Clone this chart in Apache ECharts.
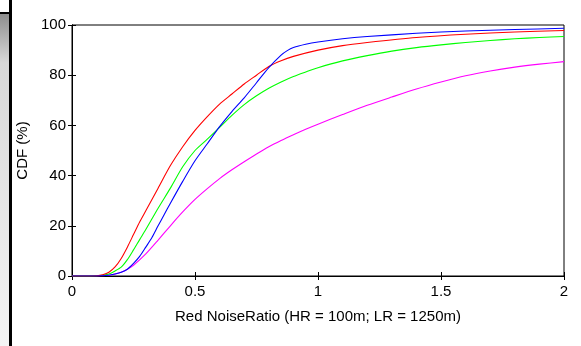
<!DOCTYPE html>
<html>
<head>
<meta charset="utf-8">
<script src="https://cdn.jsdelivr.net/npm/echarts@6/dist/echarts.min.js"></script>
<style>html,body{margin:0;padding:0;background:#fff;}#c{width:581px;height:346px;}</style>
</head>
<body>
<div id="c"></div>
<script>
const xTicks = [0, 0.5, 1, 1.5, 2];
const yTicks = [0, 20, 40, 60, 80, 100];
const xName = 'Red NoiseRatio (HR = 100m; LR = 1250m)';
const yName = 'CDF (%)';

const redX = [0,0.05,0.1,0.125,0.15,0.175,0.2,0.225,0.25,0.275,0.3,0.35,0.4,0.45,0.5,0.55,0.6,0.65,0.7,0.75,0.8,0.85,0.9,1.0,1.1,1.2,1.4,1.6,1.8,2.0];
const redY = [0,0,0.1,0.5,1.5,3.6,7,11.5,16.5,21.5,26,35,44,51.5,58,63.5,68.5,72.5,76.5,80,83.5,85.8,87.5,90,91.8,93,95,96.3,97.2,97.8];

const greenX = [0,0.05,0.1,0.125,0.15,0.175,0.2,0.225,0.25,0.275,0.3,0.35,0.4,0.45,0.5,0.55,0.6,0.65,0.7,0.75,0.8,0.85,0.9,0.95,1.0,1.1,1.2,1.3,1.4,1.5,1.6,1.7,1.8,1.9,2.0];
const greenY = [0,0,0.1,0.3,0.8,2,3.5,6.5,10.4,14.5,18.5,27,35,43.5,50,54.5,59.2,64,68.3,71.8,74.8,77.3,79.5,81.3,83,85.7,87.8,89.6,91,92.1,93,93.8,94.5,95,95.4];

const blueX = [0,0.05,0.1,0.15,0.175,0.2,0.225,0.25,0.275,0.3,0.325,0.35,0.375,0.4,0.45,0.5,0.55,0.6,0.65,0.7,0.75,0.8,0.85,0.875,0.9,0.95,1.0,1.1,1.2,1.4,1.6,1.8,2.0];
const blueY = [0,0,0,0.3,0.8,1.5,2.7,5,7.8,11.5,15.3,20,24.5,29,37.7,45.9,52.7,59.5,65.5,71,77,83,88,89.8,91,92.3,93.2,94.5,95.4,96.7,97.6,98.2,98.7];

const magentaX = [0,0.05,0.1,0.15,0.175,0.2,0.225,0.25,0.3,0.35,0.4,0.45,0.5,0.55,0.6,0.65,0.7,0.75,0.8,0.85,0.9,0.95,1.0,1.1,1.2,1.3,1.4,1.5,1.6,1.7,1.8,1.9,2.0];
const magentaY = [0,0,0,0.3,0.8,1.5,2.7,4.3,8.8,14.3,20,25.5,30.5,34.8,38.8,42.3,45.5,48.6,51.5,54,56.3,58.5,60.5,64.3,68,71.3,74.5,77.3,79.8,81.7,83.2,84.4,85.4];

function pairs(xs, ys){ return xs.map((x,i)=>[x, ys[i]]); }

const font = 'Liberation Sans, Arial, sans-serif';
const chart = echarts.init(document.getElementById('c'));
function line(name, xs, ys, color){
  return {name, type:'line', data:pairs(xs,ys), showSymbol:false, smooth:0.25,
    lineStyle:{color, width:1.1}, itemStyle:{color}, animation:false, z:3};
}
chart.setOption({
  animation:false,
  backgroundColor:'#fff',
  grid:{left:72, right:17, top:25, bottom:70, show:true, borderColor:'#000', borderWidth:1},
  xAxis:[{
    type:'value', min:0, max:2, interval:0.5, position:'bottom',
    name:xName, nameLocation:'middle', nameGap:33,
    nameTextStyle:{color:'#000', fontFamily:font, fontSize:15},
    axisLine:{show:true, lineStyle:{color:'#000', width:1}},
    axisTick:{show:true, inside:true, length:4, lineStyle:{color:'#000'}},
    axisLabel:{color:'#000', fontFamily:font, fontSize:15, margin:8, formatter:v=>String(v), customValues:xTicks},
    splitLine:{show:false}
  },{
    type:'value', min:0, max:2, interval:0.5, position:'top',
    axisLine:{show:true, lineStyle:{color:'#000', width:1}},
    axisTick:{show:true, inside:true, length:4, lineStyle:{color:'#000'}},
    axisLabel:{show:false}, splitLine:{show:false}
  }],
  yAxis:[{
    type:'value', min:0, max:100, interval:20, position:'left',
    name:yName, nameLocation:'middle', nameGap:42, nameRotate:90,
    nameTextStyle:{color:'#000', fontFamily:font, fontSize:15},
    axisLine:{show:true, lineStyle:{color:'#000', width:1}},
    axisTick:{show:true, inside:true, length:4, lineStyle:{color:'#000'}},
    axisLabel:{color:'#000', fontFamily:font, fontSize:15, margin:6, customValues:yTicks},
    splitLine:{show:false}
  },{
    type:'value', min:0, max:100, interval:20, position:'right',
    axisLine:{show:true, lineStyle:{color:'#000', width:1}},
    axisTick:{show:true, inside:true, length:4, lineStyle:{color:'#000'}},
    axisLabel:{show:false}, splitLine:{show:false}
  }],
  graphic:[
    {type:'rect', left:0, top:13, shape:{width:9, height:333},
      style:{fill:new echarts.graphic.LinearGradient(0,0,0,1,[{offset:0,color:'#8c8c8c'},{offset:0.15,color:'#d8d8d8'},{offset:1,color:'#f4f4f4'}])}},
    {type:'rect', left:0, top:12, shape:{width:10, height:2}, style:{fill:'#000'}},
    {type:'rect', left:9, top:0, shape:{width:3, height:346}, style:{fill:'#000'}}
  ],
  series:[
    line('magenta', magentaX, magentaY, '#ff00ff'),
    line('green', greenX, greenY, '#00ff00'),
    line('red', redX, redY, '#ff0000'),
    line('blue', blueX, blueY, '#0000ff')
  ]
});
</script>
</body>
</html>
